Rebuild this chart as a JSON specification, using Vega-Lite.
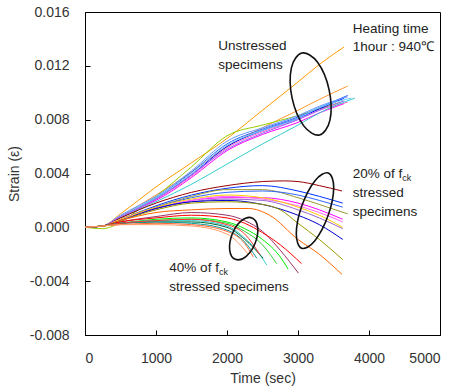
{
  "$schema": "https://vega.github.io/schema/vega-lite/v6.json",
  "width": 355,
  "height": 323,
  "autosize": {"type": "none"},
  "padding": {"left": 85, "top": 12, "right": 13, "bottom": 55},
  "background": "white",
  "config": {
    "view": {"stroke": "#000", "strokeWidth": 1},
    "font": "Liberation Sans",
    "axis": {
      "grid": false,
      "domainColor": "#000",
      "tickColor": "#000",
      "tickSize": -5,
      "labelFontSize": 14,
      "labelColor": "#333",
      "titleFontSize": 14,
      "titleFontWeight": "normal",
      "titleColor": "#333"
    }
  },
  "datasets": {
    "curves": [
      {"k":"u1","t":0,"s":0},{"k":"u1","t":250,"s":0.0001},{"k":"u1","t":500,"s":0.0010},{"k":"u1","t":750,"s":0.0020},{"k":"u1","t":1000,"s":0.0030},{"k":"u1","t":1500,"s":0.0048},{"k":"u1","t":2000,"s":0.0066},{"k":"u1","t":2500,"s":0.0087},{"k":"u1","t":3000,"s":0.0108},{"k":"u1","t":3300,"s":0.0121},{"k":"u1","t":3650,"s":0.0134},
      {"k":"u2","t":0,"s":0},{"k":"u2","t":250,"s":0.0001},{"k":"u2","t":500,"s":0.0008},{"k":"u2","t":750,"s":0.0016},{"k":"u2","t":1000,"s":0.0024},{"k":"u2","t":1500,"s":0.0041},{"k":"u2","t":2000,"s":0.0060},{"k":"u2","t":2500,"s":0.0074},{"k":"u2","t":3000,"s":0.0087},{"k":"u2","t":3300,"s":0.0095},{"k":"u2","t":3700,"s":0.0105},
      {"k":"u3","t":0,"s":0},{"k":"u3","t":250,"s":-0.0001},{"k":"u3","t":400,"s":0.0001},{"k":"u3","t":750,"s":0.0013},{"k":"u3","t":1000,"s":0.0023},{"k":"u3","t":1500,"s":0.0045},{"k":"u3","t":2000,"s":0.0068},{"k":"u3","t":2500,"s":0.0076},{"k":"u3","t":3000,"s":0.0083},{"k":"u3","t":3300,"s":0.0088},{"k":"u3","t":3600,"s":0.0093},
      {"k":"u4","t":0,"s":0},{"k":"u4","t":250,"s":0.0001},{"k":"u4","t":500,"s":0.0008},{"k":"u4","t":750,"s":0.0015},{"k":"u4","t":1000,"s":0.0022},{"k":"u4","t":1500,"s":0.0041},{"k":"u4","t":2000,"s":0.0062},{"k":"u4","t":2500,"s":0.0073},{"k":"u4","t":3000,"s":0.0082},{"k":"u4","t":3300,"s":0.0089},{"k":"u4","t":3700,"s":0.0098},
      {"k":"u5","t":0,"s":0},{"k":"u5","t":250,"s":0.0001},{"k":"u5","t":500,"s":0.0008},{"k":"u5","t":750,"s":0.0014},{"k":"u5","t":1000,"s":0.0021},{"k":"u5","t":1500,"s":0.0039},{"k":"u5","t":2000,"s":0.0060},{"k":"u5","t":2500,"s":0.0072},{"k":"u5","t":3000,"s":0.0081},{"k":"u5","t":3300,"s":0.0088},{"k":"u5","t":3650,"s":0.0096},
      {"k":"u6","t":0,"s":0},{"k":"u6","t":250,"s":0.0001},{"k":"u6","t":500,"s":0.0009},{"k":"u6","t":750,"s":0.0016},{"k":"u6","t":1000,"s":0.0023},{"k":"u6","t":1500,"s":0.0042},{"k":"u6","t":2000,"s":0.0064},{"k":"u6","t":2500,"s":0.0074},{"k":"u6","t":3000,"s":0.0083},{"k":"u6","t":3300,"s":0.0090},{"k":"u6","t":3700,"s":0.0097},
      {"k":"u7","t":0,"s":0},{"k":"u7","t":250,"s":0.0001},{"k":"u7","t":500,"s":0.0008},{"k":"u7","t":750,"s":0.0014},{"k":"u7","t":1000,"s":0.0020},{"k":"u7","t":1500,"s":0.0037},{"k":"u7","t":2000,"s":0.0057},{"k":"u7","t":2500,"s":0.0069},{"k":"u7","t":3000,"s":0.0078},{"k":"u7","t":3300,"s":0.0085},{"k":"u7","t":3650,"s":0.0092},
      {"k":"u8","t":0,"s":0},{"k":"u8","t":250,"s":0.0001},{"k":"u8","t":500,"s":0.0008},{"k":"u8","t":750,"s":0.0014},{"k":"u8","t":1000,"s":0.0021},{"k":"u8","t":1500,"s":0.0038},{"k":"u8","t":2000,"s":0.0059},{"k":"u8","t":2500,"s":0.0071},{"k":"u8","t":3000,"s":0.0080},{"k":"u8","t":3300,"s":0.0087},{"k":"u8","t":3700,"s":0.0093},
      {"k":"u9","t":0,"s":0},{"k":"u9","t":250,"s":0.0001},{"k":"u9","t":500,"s":0.0007},{"k":"u9","t":750,"s":0.0013},{"k":"u9","t":1000,"s":0.0019},{"k":"u9","t":1500,"s":0.0032},{"k":"u9","t":2000,"s":0.0047},{"k":"u9","t":2500,"s":0.0062},{"k":"u9","t":3000,"s":0.0076},{"k":"u9","t":3300,"s":0.0085},{"k":"u9","t":3800,"s":0.0096},
      {"k":"u10","t":0,"s":0},{"k":"u10","t":250,"s":0.0001},{"k":"u10","t":500,"s":0.0008},{"k":"u10","t":750,"s":0.0015},{"k":"u10","t":1000,"s":0.0022},{"k":"u10","t":1500,"s":0.0040},{"k":"u10","t":2000,"s":0.0061},{"k":"u10","t":2500,"s":0.0072},{"k":"u10","t":3000,"s":0.0081},{"k":"u10","t":3300,"s":0.0089},{"k":"u10","t":3750,"s":0.0096},
      {"k":"u11","t":0,"s":0},{"k":"u11","t":250,"s":0.0001},{"k":"u11","t":500,"s":0.0008},{"k":"u11","t":750,"s":0.0014},{"k":"u11","t":1000,"s":0.0021},{"k":"u11","t":1500,"s":0.0039},{"k":"u11","t":2000,"s":0.0058},{"k":"u11","t":2500,"s":0.0070},{"k":"u11","t":3000,"s":0.0080},{"k":"u11","t":3300,"s":0.0087},{"k":"u11","t":3650,"s":0.0094},

      {"k":"m1","t":0,"s":0},{"k":"m1","t":250,"s":0.0001},{"k":"m1","t":500,"s":0.0007},{"k":"m1","t":1000,"s":0.0018},{"k":"m1","t":1500,"s":0.0026},{"k":"m1","t":2000,"s":0.0031},{"k":"m1","t":2500,"s":0.0034},{"k":"m1","t":2800,"s":0.00345},{"k":"m1","t":3000,"s":0.0034},{"k":"m1","t":3300,"s":0.0031},{"k":"m1","t":3620,"s":0.0027},
      {"k":"m2","t":0,"s":0},{"k":"m2","t":250,"s":0.0001},{"k":"m2","t":500,"s":0.0006},{"k":"m2","t":1000,"s":0.0016},{"k":"m2","t":1500,"s":0.0024},{"k":"m2","t":2000,"s":0.0029},{"k":"m2","t":2500,"s":0.0031},{"k":"m2","t":3000,"s":0.0027},{"k":"m2","t":3300,"s":0.0023},{"k":"m2","t":3630,"s":0.0018},
      {"k":"m3","t":0,"s":0},{"k":"m3","t":250,"s":0.0001},{"k":"m3","t":500,"s":0.0006},{"k":"m3","t":1000,"s":0.0015},{"k":"m3","t":1500,"s":0.0023},{"k":"m3","t":2000,"s":0.0028},{"k":"m3","t":2500,"s":0.0028},{"k":"m3","t":3000,"s":0.0022},{"k":"m3","t":3300,"s":0.0017},{"k":"m3","t":3700,"s":0.0010},
      {"k":"m4","t":0,"s":0},{"k":"m4","t":250,"s":0.0001},{"k":"m4","t":500,"s":0.0006},{"k":"m4","t":1000,"s":0.0015},{"k":"m4","t":1500,"s":0.0022},{"k":"m4","t":2000,"s":0.0026},{"k":"m4","t":2500,"s":0.0027},{"k":"m4","t":3000,"s":0.0024},{"k":"m4","t":3300,"s":0.0020},{"k":"m4","t":3630,"s":0.0015},
      {"k":"m5","t":0,"s":0},{"k":"m5","t":250,"s":0.0001},{"k":"m5","t":500,"s":0.0006},{"k":"m5","t":1000,"s":0.0014},{"k":"m5","t":1500,"s":0.0020},{"k":"m5","t":2000,"s":0.0022},{"k":"m5","t":2500,"s":0.0022},{"k":"m5","t":3000,"s":0.0018},{"k":"m5","t":3300,"s":0.0013},{"k":"m5","t":3630,"s":0.0006},
      {"k":"m6","t":0,"s":0},{"k":"m6","t":250,"s":0.0001},{"k":"m6","t":500,"s":0.0006},{"k":"m6","t":1000,"s":0.0014},{"k":"m6","t":1500,"s":0.0020},{"k":"m6","t":2000,"s":0.0023},{"k":"m6","t":2500,"s":0.0021},{"k":"m6","t":3000,"s":0.0016},{"k":"m6","t":3300,"s":0.0011},{"k":"m6","t":3630,"s":0.0004},
      {"k":"m7","t":0,"s":0},{"k":"m7","t":250,"s":0.0001},{"k":"m7","t":500,"s":0.0006},{"k":"m7","t":1000,"s":0.0015},{"k":"m7","t":1500,"s":0.0021},{"k":"m7","t":2000,"s":0.0024},{"k":"m7","t":2500,"s":0.0022},{"k":"m7","t":3000,"s":0.0015},{"k":"m7","t":3300,"s":0.0009},{"k":"m7","t":3630,"s":0.0000},
      {"k":"m8","t":0,"s":0},{"k":"m8","t":250,"s":0.0001},{"k":"m8","t":500,"s":0.0005},{"k":"m8","t":1000,"s":0.0014},{"k":"m8","t":1500,"s":0.0019},{"k":"m8","t":2000,"s":0.0021},{"k":"m8","t":2500,"s":0.0020},{"k":"m8","t":3000,"s":0.0013},{"k":"m8","t":3300,"s":0.0007},{"k":"m8","t":3630,"s":-0.0001},
      {"k":"m9","t":0,"s":0},{"k":"m9","t":250,"s":0.0001},{"k":"m9","t":500,"s":0.0005},{"k":"m9","t":1000,"s":0.0014},{"k":"m9","t":1500,"s":0.0019},{"k":"m9","t":2000,"s":0.0020},{"k":"m9","t":2500,"s":0.0017},{"k":"m9","t":3000,"s":0.0009},{"k":"m9","t":3300,"s":0.0002},{"k":"m9","t":3630,"s":-0.0009},
      {"k":"m10","t":0,"s":0},{"k":"m10","t":250,"s":0.0001},{"k":"m10","t":500,"s":0.0005},{"k":"m10","t":1000,"s":0.0013},{"k":"m10","t":1500,"s":0.0018},{"k":"m10","t":2000,"s":0.0019},{"k":"m10","t":2500,"s":0.0017},{"k":"m10","t":2750,"s":0.0013},{"k":"m10","t":3000,"s":0.0003},{"k":"m10","t":3300,"s":-0.0009},{"k":"m10","t":3630,"s":-0.0024},
      {"k":"m11","t":0,"s":0},{"k":"m11","t":250,"s":0.0001},{"k":"m11","t":500,"s":0.0005},{"k":"m11","t":1000,"s":0.0011},{"k":"m11","t":1500,"s":0.0013},{"k":"m11","t":2000,"s":0.0014},{"k":"m11","t":2300,"s":0.0014},{"k":"m11","t":2600,"s":0.0009},{"k":"m11","t":3000,"s":-0.0009},{"k":"m11","t":3300,"s":-0.0020},{"k":"m11","t":3620,"s":-0.0035},

      {"k":"f1","t":0,"s":0},{"k":"f1","t":250,"s":0.0001},{"k":"f1","t":500,"s":0.0004},{"k":"f1","t":1000,"s":0.0008},{"k":"f1","t":1500,"s":0.0011},{"k":"f1","t":2000,"s":0.0009},{"k":"f1","t":2250,"s":0.0005},{"k":"f1","t":2500,"s":-0.0003},{"k":"f1","t":2750,"s":-0.0017},{"k":"f1","t":3005,"s":-0.0034},
      {"k":"f2","t":0,"s":0},{"k":"f2","t":250,"s":0.0001},{"k":"f2","t":500,"s":0.0004},{"k":"f2","t":1000,"s":0.0007},{"k":"f2","t":1500,"s":0.0009},{"k":"f2","t":2000,"s":0.0007},{"k":"f2","t":2250,"s":0.0003},{"k":"f2","t":2500,"s":-0.0004},{"k":"f2","t":2750,"s":-0.0013},{"k":"f2","t":3050,"s":-0.0027},
      {"k":"f3","t":0,"s":0},{"k":"f3","t":250,"s":0.0001},{"k":"f3","t":500,"s":0.0003},{"k":"f3","t":1000,"s":0.0006},{"k":"f3","t":1500,"s":0.0007},{"k":"f3","t":2000,"s":0.0004},{"k":"f3","t":2250,"s":-0.0001},{"k":"f3","t":2500,"s":-0.0009},{"k":"f3","t":2750,"s":-0.0022},{"k":"f3","t":2860,"s":-0.0031},
      {"k":"f4","t":0,"s":0},{"k":"f4","t":250,"s":0.0001},{"k":"f4","t":500,"s":0.0003},{"k":"f4","t":1000,"s":0.0005},{"k":"f4","t":1500,"s":0.0006},{"k":"f4","t":2000,"s":0.0003},{"k":"f4","t":2250,"s":-0.0003},{"k":"f4","t":2500,"s":-0.0013},{"k":"f4","t":2700,"s":-0.0027},
      {"k":"f5","t":0,"s":0},{"k":"f5","t":250,"s":0.0001},{"k":"f5","t":500,"s":0.0003},{"k":"f5","t":1000,"s":0.0005},{"k":"f5","t":1500,"s":0.0005},{"k":"f5","t":2000,"s":0.0001},{"k":"f5","t":2250,"s":-0.0008},{"k":"f5","t":2400,"s":-0.0016},{"k":"f5","t":2560,"s":-0.0028},
      {"k":"f6","t":0,"s":0},{"k":"f6","t":250,"s":0.0001},{"k":"f6","t":500,"s":0.0003},{"k":"f6","t":1000,"s":0.0004},{"k":"f6","t":1500,"s":0.0004},{"k":"f6","t":2000,"s":0.0000},{"k":"f6","t":2250,"s":-0.0009},{"k":"f6","t":2510,"s":-0.0023},
      {"k":"f7","t":0,"s":0},{"k":"f7","t":250,"s":0.0001},{"k":"f7","t":500,"s":0.0003},{"k":"f7","t":1000,"s":0.0004},{"k":"f7","t":1500,"s":0.0003},{"k":"f7","t":2000,"s":-0.0002},{"k":"f7","t":2250,"s":-0.0011},{"k":"f7","t":2420,"s":-0.0023},
      {"k":"f8","t":0,"s":0},{"k":"f8","t":250,"s":0.0001},{"k":"f8","t":500,"s":0.0003},{"k":"f8","t":1000,"s":0.0005},{"k":"f8","t":1500,"s":0.0006},{"k":"f8","t":2000,"s":0.0002},{"k":"f8","t":2250,"s":-0.0005},{"k":"f8","t":2460,"s":-0.0020},
      {"k":"f9","t":0,"s":0},{"k":"f9","t":250,"s":0.0001},{"k":"f9","t":500,"s":0.0002},{"k":"f9","t":1000,"s":0.0003},{"k":"f9","t":1500,"s":0.0002},{"k":"f9","t":2000,"s":-0.0003},{"k":"f9","t":2250,"s":-0.0012},{"k":"f9","t":2370,"s":-0.0022},
      {"k":"f10","t":0,"s":0},{"k":"f10","t":250,"s":0.0001},{"k":"f10","t":500,"s":0.0002},{"k":"f10","t":1000,"s":0.0002},{"k":"f10","t":1500,"s":0.0001},{"k":"f10","t":2000,"s":-0.0005},{"k":"f10","t":2300,"s":-0.0020}
    ],
    "ellipses": [
      {"e":"a","o":1,"t":3055,"s":0.01295},{"e":"a","o":2,"t":3276,"s":0.01226},{"e":"a","o":3,"t":3439,"s":0.01020},{"e":"a","o":4,"t":3450,"s":0.00796},{"e":"a","o":5,"t":3302,"s":0.00686},{"e":"a","o":6,"t":3081,"s":0.00754},{"e":"a","o":7,"t":2917,"s":0.00960},{"e":"a","o":8,"t":2907,"s":0.01185},
      {"e":"b","o":1,"t":3427,"s":0.00404},{"e":"b","o":2,"t":3503,"s":0.00298},{"e":"b","o":3,"t":3425,"s":0.00089},{"e":"b","o":4,"t":3238,"s":-0.00099},{"e":"b","o":5,"t":3052,"s":-0.00156},{"e":"b","o":6,"t":2976,"s":-0.00050},{"e":"b","o":7,"t":3053,"s":0.00158},{"e":"b","o":8,"t":3240,"s":0.00347},
      {"e":"c","o":1,"t":2353,"s":0.00070},{"e":"c","o":2,"t":2432,"s":0.00000},{"e":"c","o":3,"t":2396,"s":-0.00118},{"e":"c","o":4,"t":2266,"s":-0.00217},{"e":"c","o":5,"t":2117,"s":-0.00238},{"e":"c","o":6,"t":2038,"s":-0.00169},{"e":"c","o":7,"t":2074,"s":-0.00050},{"e":"c","o":8,"t":2204,"s":0.00049}
    ],
    "labels": [
      {"txt":"Heating time","t":3770,"s":0.01475},
      {"txt":"1hour : 940℃","t":3770,"s":0.01339},
      {"txt":"Unstressed","t":1878,"s":0.01347},
      {"txt":"specimens","t":1878,"s":0.01208},
      {"txt":"20% of f","t":3770,"s":0.00399},
      {"txt":"stressed","t":3770,"s":0.00255},
      {"txt":"specimens","t":3770,"s":0.00111},
      {"txt":"40% of f","t":1188,"s":-0.00302},
      {"txt":"stressed specimens","t":1188,"s":-0.00443}
    ],
    "subs": [
      {"txt":"ck","t":4470,"s":0.00366},
      {"txt":"ck","t":1888,"s":-0.00335}
    ]
  },
  "layer": [
    {
      "data": {"name": "curves"},
      "mark": {"type": "line", "strokeWidth": 1, "interpolate": "monotone"},
      "encoding": {
        "x": {"field": "t", "type": "quantitative", "scale": {"domain": [0, 5000], "nice": false},
              "axis": {"values": [0, 1000, 2000, 3000, 4000, 5000], "format": "d", "title": "Time (sec)", "labelPadding": 21, "titlePadding": 6}},
        "y": {"field": "s", "type": "quantitative", "scale": {"domain": [-0.008, 0.016], "nice": false},
              "axis": {"values": [-0.008, -0.004, 0, 0.004, 0.008, 0.012, 0.016], "labelExpr": "replace(format(datum.value, '.3f'), '−', '-')", "title": "Strain (ε)", "labelPadding": 21, "titlePadding": 8}},
        "color": {"field": "k", "type": "nominal", "legend": null,
          "scale": {
            "domain": ["u1","u2","u3","u4","u5","u6","u7","u8","u9","u10","u11","m1","m2","m3","m4","m5","m6","m7","m8","m9","m10","m11","f1","f2","f3","f4","f5","f6","f7","f8","f9","f10"],
            "range": ["#FF9900","#FF9933","#99CC00","#3366FF","#0000FF","#6699FF","#FF00FF","#FF66CC","#33CCCC","#66CCFF","#9966FF","#990000","#0033FF","#999933","#3366FF","#FF00FF","#FF66FF","#FFCC00","#9966CC","#0000CC","#999900","#FF6600","#993366","#FF0000","#00EE00","#33CC33","#33CCCC","#006633","#009999","#FF3333","#FF6633","#FF9966"]
          }},
        "order": {"field": "t", "type": "quantitative"}
      }
    },
    {
      "data": {"name": "ellipses"},
      "mark": {"type": "line", "interpolate": "cardinal-closed", "color": "#111", "strokeWidth": 1.6},
      "encoding": {
        "x": {"field": "t", "type": "quantitative"},
        "y": {"field": "s", "type": "quantitative"},
        "detail": {"field": "e", "type": "nominal"},
        "order": {"field": "o", "type": "quantitative"}
      }
    },
    {
      "mark": {"type": "rule", "color": "#555", "strokeWidth": 1},
      "encoding": {"x": {"datum": 3630, "type": "quantitative"}}
    },
    {
      "data": {"name": "labels"},
      "mark": {"type": "text", "align": "left", "baseline": "middle", "fontSize": 13.5, "color": "#222"},
      "encoding": {
        "x": {"field": "t", "type": "quantitative"},
        "y": {"field": "s", "type": "quantitative"},
        "text": {"field": "txt"}
      }
    },
    {
      "data": {"name": "subs"},
      "mark": {"type": "text", "align": "left", "baseline": "middle", "fontSize": 9, "color": "#222"},
      "encoding": {
        "x": {"field": "t", "type": "quantitative"},
        "y": {"field": "s", "type": "quantitative"},
        "text": {"field": "txt"}
      }
    }
  ]
}
